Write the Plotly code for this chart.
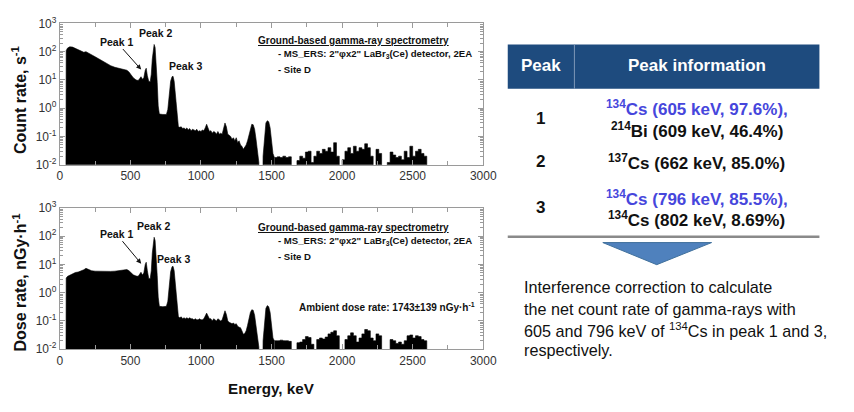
import plotly.graph_objects as go

W, H = 854, 412

# ---------------- data ----------------
energy_low = [42, 45, 55, 70, 90, 110, 130, 150, 170, 185, 200, 225, 250, 275, 300, 330, 360, 390,
              420, 450, 475, 490, 505, 520, 540, 555, 565, 575, 585, 595, 605, 612, 620, 630, 640,
              648, 655, 662, 668, 675, 682, 690, 697, 705, 730, 755, 765, 775, 785, 795, 802, 810, 820,
              830, 840, 850, 860, 870, 880, 890, 900, 910, 920, 930, 940, 950, 960, 970, 980, 990,
              1000, 1010, 1020, 1030, 1040, 1050, 1060, 1070, 1080, 1090, 1100, 1110, 1120, 1130,
              1140, 1150, 1160, 1170, 1180, 1190, 1200, 1210, 1220, 1230, 1240, 1250, 1260, 1270,
              1280, 1290, 1300, 1310, 1320, 1330, 1340, 1350, 1360, 1370, 1380, 1390, 1400, 1410,
              1415, 1435, 1440, 1450, 1460, 1470, 1480, 1490, 1500, 1510, 1520]

count_low = [0, 110, 135, 148, 145, 130, 112, 100, 95, 100, 92, 78, 66, 56, 47, 38, 32, 28,
             26, 24, 22, 19, 15, 12, 10, 9.5, 11, 13, 10.5, 12, 22, 26, 14, 9, 8.5,
             16, 55, 145, 180, 140, 50, 8, 1.2, 0.62, 0.6, 0.6, 0.9, 3, 9, 13, 13.5, 9, 2.5,
             0.5, 0.22, 0.21, 0.22, 0.19, 0.2, 0.18, 0.2, 0.17, 0.19, 0.16, 0.18, 0.17, 0.16, 0.18, 0.15, 0.16,
             0.15, 0.17, 0.16, 0.2, 0.27, 0.2, 0.15, 0.16, 0.13, 0.15, 0.14, 0.12, 0.15, 0.12,
             0.13, 0.12, 0.2, 0.3, 0.22, 0.12, 0.11, 0.1, 0.08, 0.09, 0.07, 0.09, 0.06, 0.07,
             0.05, 0.045, 0.035, 0.04, 0.05, 0.07, 0.12, 0.2, 0.27, 0.26, 0.18, 0.08, 0.03, 0.012,
             0, 0, 0.02, 0.1, 0.3, 0.36, 0.33, 0.2, 0.07, 0.025, 0.018]

dose_low = [0, 3.3, 3.8, 4.2, 4.8, 5.2, 5.4, 5.8, 6.5, 7.3, 6.8, 6.0, 5.8, 5.7, 5.6, 5.6, 5.7, 5.8,
            6.0, 6.2, 6.6, 6.0, 5.2, 4.3, 3.9, 3.8, 4.5, 5.3, 4.2, 5.0, 10, 12, 6, 3.2, 3.1,
            6, 25, 75, 92, 70, 22, 4, 0.7, 0.33, 0.32, 0.33, 0.5, 1.8, 5.5, 8.3, 8.6, 6, 1.5,
            0.3, 0.14, 0.13, 0.14, 0.12, 0.13, 0.12, 0.13, 0.12, 0.13, 0.12, 0.12, 0.11, 0.12, 0.11, 0.11, 0.12,
            0.11, 0.11, 0.12, 0.15, 0.19, 0.15, 0.12, 0.12, 0.1, 0.12, 0.11, 0.1, 0.12, 0.11,
            0.1, 0.11, 0.17, 0.23, 0.17, 0.1, 0.09, 0.085, 0.08, 0.085, 0.075, 0.08, 0.065, 0.06,
            0.058, 0.045, 0.034, 0.036, 0.045, 0.07, 0.13, 0.2, 0.25, 0.24, 0.16, 0.07, 0.03, 0.012,
            0, 0, 0.02, 0.1, 0.28, 0.35, 0.32, 0.2, 0.07, 0.025, 0.02]

energy_high = [1520, 1540, 1560, 1580, 1600, 1620, 1640, 1660, 1680, 1700, 1720, 1740, 1760, 1780,
               1800, 1820, 1840, 1860, 1880, 1900, 1920, 1940, 1960, 1980, 2000, 2020, 2040, 2060,
               2080, 2100, 2120, 2140, 2160, 2180, 2200, 2220, 2240, 2260, 2280, 2300, 2320, 2340,
               2360, 2380, 2400, 2420, 2440, 2460, 2480, 2500, 2520, 2540, 2560, 2580, 2600]

count_high = [0.018, 0.019, 0.018, 0.02, 0.018, 0.019, 0, 0, 0.014, 0.02, 0.017, 0.028, 0.03, 0.012,
              0.02, 0.03, 0.025, 0.035, 0.03, 0.04, 0.028, 0.06, 0.02, 0, 0.015, 0.03, 0.04, 0.025,
              0.045, 0.03, 0.04, 0.035, 0.055, 0.04, 0.02, 0, 0.035, 0.025, 0, 0, 0.012, 0.028,
              0.022, 0.018, 0.02, 0.015, 0.03, 0.018, 0.045, 0.02, 0.03, 0.035, 0.025, 0.02, 0]

dose_high = [0.02, 0.02, 0.021, 0.02, 0.02, 0.019, 0, 0, 0.017, 0.018, 0.022, 0.028, 0.026, 0.015,
             0, 0.022, 0.025, 0.023, 0.027, 0.035, 0.04, 0.045, 0.03, 0, 0, 0.022, 0.03, 0.038,
             0.03, 0.018, 0.025, 0.035, 0.05, 0.045, 0.025, 0.02, 0.035, 0.03, 0, 0, 0, 0.022,
             0.02, 0.016, 0.018, 0.015, 0.02, 0.03, 0.032, 0.025, 0.03, 0.028, 0.022, 0.02, 0]

x_tickvals = [0, 500, 1000, 1500, 2000, 2500, 3000]
y_tickvals = [0.01, 0.1, 1, 10, 100, 1000]
y_ticktext = ['10<sup>-2</sup>', '10<sup>-1</sup>', '10<sup>0</sup>',
              '10<sup>1</sup>', '10<sup>2</sup>', '10<sup>3</sup>']

table_peaks = ['1', '2', '3']
table_info = [
    [('<sup>134</sup>Cs (605 keV, 97.6%),', 'blue'), ('<sup>214</sup>Bi (609 keV, 46.4%)', 'black')],
    [('<sup>137</sup>Cs (662 keV, 85.0%)', 'black')],
    [('<sup>134</sup>Cs (796 keV, 85.5%),', 'blue'), ('<sup>134</sup>Cs (802 keV, 8.69%)', 'black')],
]
note_lines = ['Interference correction to calculate',
              'the net count rate of gamma-rays with',
              '605 and 796 keV of <sup>134</sup>Cs in peak 1 and 3,',
              'respectively.']

# ---------------- helpers ----------------
FLOOR = 1e-5  # zero counts fall below the visible log range


def floor(vals):
    return [v if v > 0 else FLOOR for v in vals]


def px(x):
    return x / W


def py(y):
    return 1 - y / H


FONT = 'Liberation Sans, Arial, sans-serif'
BLUE_TXT = '#4646DC'
COLORS = {'blue': BLUE_TXT, 'black': '#111111'}

fig = go.Figure()
for e, v, ax_x, ax_y, shape in [
    (energy_low, count_low, 'x', 'y', 'linear'),
    (energy_high, count_high, 'x', 'y', 'hv'),
    (energy_low, dose_low, 'x2', 'y2', 'linear'),
    (energy_high, dose_high, 'x2', 'y2', 'hv'),
]:
    fig.add_trace(go.Scatter(x=e, y=floor(v), xaxis=ax_x, yaxis=ax_y, mode='lines',
                             line=dict(color='black', width=0.6, shape=shape),
                             fill='tozeroy', fillcolor='black', showlegend=False,
                             hoverinfo='skip'))

axis_common = dict(showline=True, linecolor='#9a9a9a', linewidth=1, mirror='ticks',
                   ticks='inside', tickcolor='#9a9a9a', showgrid=False, zeroline=False,
                   tickfont=dict(family=FONT, size=12, color='#333333'))

xa = dict(axis_common, range=[0, 3000], tickmode='array', tickvals=x_tickvals, ticklen=5,
          minor=dict(dtick=250, ticks='inside', ticklen=4, tickcolor='#9a9a9a'),
          domain=[px(58), px(490)])
ya = dict(axis_common, type='log', range=[-2, 3], tickmode='array', tickvals=y_tickvals,
          ticktext=y_ticktext, ticklen=5,
          minor=dict(dtick='D1', ticks='inside', ticklen=3, tickcolor='#9a9a9a'))

fig.update_layout(
    width=W, height=H, margin=dict(l=0, r=0, t=0, b=0),
    paper_bgcolor='white', plot_bgcolor='white',
    xaxis=dict(xa, anchor='y'),
    yaxis=dict(ya, anchor='x', domain=[py(162), py(15)]),
    xaxis2=dict(xa, anchor='y2'),
    yaxis2=dict(ya, anchor='x2', domain=[py(354), py(207)]),
)

anns = []


def text(t, x, y, size, color='#111111', bold=False, xanchor='center', angle=0):
    if bold:
        t = '<b>' + t + '</b>'
    anns.append(dict(text=t, x=px(x), y=py(y), xref='paper', yref='paper', showarrow=False,
                     xanchor=xanchor, yanchor='middle', textangle=angle,
                     font=dict(family=FONT, size=size, color=color)))


def arrow_label(t, tip, tail_txt, size):
    anns.append(dict(text='<b>' + t + '</b>', x=px(tip[0]), y=py(tip[1]), xref='paper', yref='paper',
                     ax=tail_txt[0] - tip[0], ay=tail_txt[1] - tip[1], showarrow=True,
                     arrowhead=2, arrowsize=1, arrowwidth=1, arrowcolor='#111111', standoff=0,
                     font=dict(family=FONT, size=size, color='#111111')))


# axis titles
text('Count rate, s<sup>-1</sup>', 17, 95, 16, bold=True, angle=-90)
text('Dose rate, nGy·h<sup>-1</sup>', 17, 285, 16, bold=True, angle=-90)
text('Energy, keV', 274, 395, 15.2, bold=True)

# in-plot labels
for dy in (0, 194):
    text('<u>Ground-based gamma-ray spectrometry</u>', 258, 33 + dy, 10, bold=True, xanchor='left')
    text('- MS_ERS: 2"φx2" LaBr<sub>3</sub>(Ce) detector, 2EA', 279, 47 + dy, 9.6, bold=True, xanchor='left')
    text('- Site D', 279, 63 + dy, 9.6, bold=True, xanchor='left')

arrow_label('Peak 1', (141, 63), (116, 35), 10.5)
text('Peak 2', 156, 25, 10.5, bold=True)
text('Peak 3', 186, 59, 10.5, bold=True)

arrow_label('Peak 1', (141, 265), (116, 235), 10.5)
text('Peak 2', 154, 226, 10.5, bold=True)
text('Peak 3', 174, 260, 10.5, bold=True)
text('Ambient dose rate: 1743±139 nGy·h<sup>-1</sup>', 300, 310, 10, bold=True, xanchor='left')

# table
shapes = []
shapes.append(dict(type='rect', xref='paper', yref='paper', x0=px(515), x1=px(833), y0=py(83), y1=py(37),
                   fillcolor='#1E4B7E', line=dict(width=0), layer='below'))
shapes.append(dict(type='line', xref='paper', yref='paper', x0=px(583), x1=px(583), y0=py(83), y1=py(37),
                   line=dict(color='#7f98b8', width=1)))
shapes.append(dict(type='line', xref='paper', yref='paper', x0=px(515), x1=px(833), y0=py(237), y1=py(237),
                   line=dict(color='#8a8a8a', width=2.5)))
shapes.append(dict(type='path', xref='paper', yref='paper',
                   path='M {a},{b} L {c},{b} L {d},{e} Z'.format(a=px(612), b=py(243), c=px(723), d=px(667), e=py(266)),
                   fillcolor='#4F81BD', line=dict(color='#41719C', width=1)))

text('Peak', 549, 59, 17, color='white', bold=True)
text('Peak information', 708, 59, 17, color='white', bold=True)

row_y = [(114, [103, 126]), (159, [159]), (207, [197, 219])]
for pk, info, (ry, lys) in zip(table_peaks, table_info, row_y):
    text(pk, 548, ry, 17, bold=True)
    for (t, c), ly in zip(info, lys):
        text(t, 708, ly, 17, color=COLORS[c], bold=True)

for t, ly in zip(note_lines, [289, 312, 334, 355]):
    text(t, 530, ly, 16.2, xanchor='left')

fig.update_layout(annotations=anns, shapes=shapes)
fig.write_html('out.html')
